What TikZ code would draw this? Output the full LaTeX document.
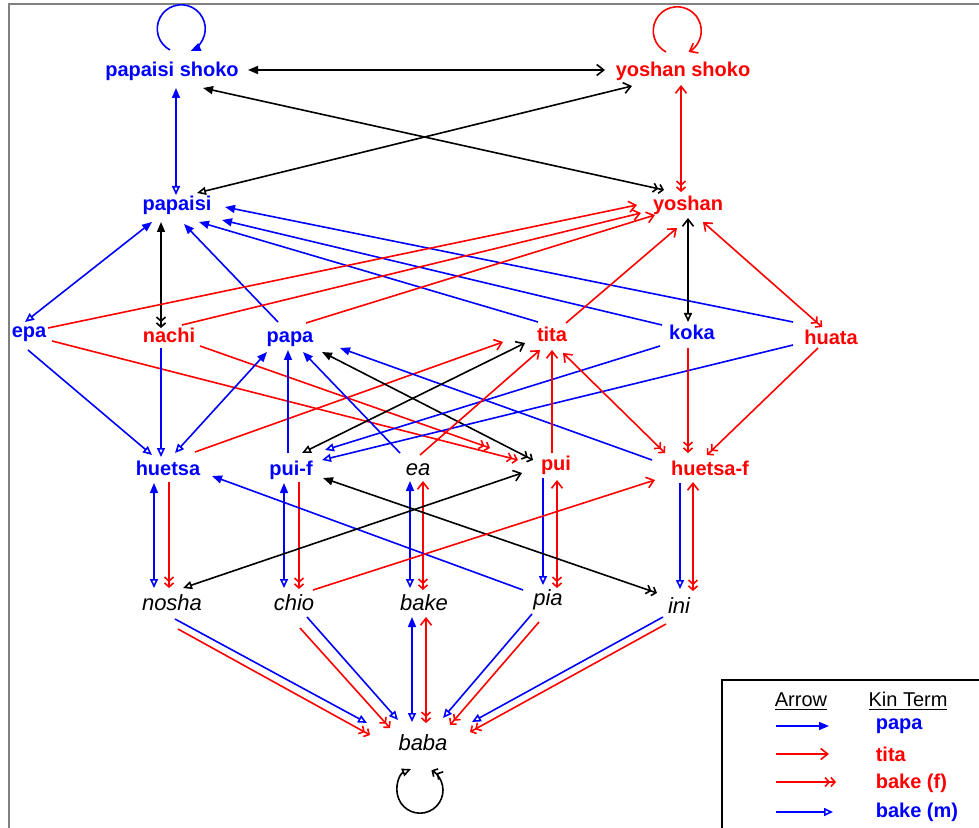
\documentclass[tikz,border=0pt]{standalone}
\usepackage{fontspec}
\setmainfont{Liberation Sans}
\usetikzlibrary{arrows.meta}

\begin{document}
\begin{tikzpicture}[
    x=0.5pt, y=-0.5pt, line width=0.8pt,
    term/.style={anchor=base, inner sep=0pt, font=\fontsize{10}{12}\selectfont\bfseries},
    pterm/.style={term, text=blue},
    tterm/.style={term, text=red},
    xterm/.style={anchor=base, inner sep=0pt, font=\fontsize{11}{13}\selectfont\itshape},
    hd/.style={anchor=base, inner sep=0pt, font=\fontsize{10}{12}\selectfont},
    pap/.tip={Triangle[length=5pt,width=4pt]},
    tit/.tip={Straight Barb[length=3.5pt,width=5.5pt]},
    bkf/.tip={Straight Barb[length=2pt,width=4.5pt] Straight Barb[length=2pt,width=4.5pt]},
    bkm/.tip={Triangle[open,length=4.5pt,width=4pt]},
]
    \useasboundingbox (0,0) rectangle (979,828);
    \draw[gray] (9,828) -- (9,4) -- (979,4);

    %% kin terms
    \node[pterm] (pshoko) at (172,77) {papaisi shoko};
    \node[tterm] (yshoko) at (683,77) {yoshan shoko};
    \node[pterm] (papaisi) at (177,211) {papaisi};
    \node[tterm] (yoshan) at (688,211) {yoshan};
    \node[pterm] (epa) at (29,338) {epa};
    \node[tterm] (nachi) at (169,343) {nachi};
    \node[pterm] (papa) at (290,343) {papa};
    \node[tterm] (tita) at (552,342) {tita};
    \node[pterm] (koka) at (692,340) {koka};
    \node[tterm] (huata) at (831,345) {huata};
    \node[pterm] (huetsa) at (168,475) {huetsa};
    \node[pterm] (puif) at (291,475) {pui-f};
    \node[xterm] (ea) at (418,475) {ea};
    \node[tterm] (pui) at (556,470) {pui};
    \node[tterm] (huetsaf) at (710,475) {huetsa-f};
    \node[xterm] (nosha) at (172,610) {nosha};
    \node[xterm] (chio) at (294,610) {chio};
    \node[xterm] (bake) at (424,610) {bake};
    \node[xterm] (pia) at (548,605) {pia};
    \node[xterm] (ini) at (679,613) {ini};
    \node[xterm] (baba) at (423,750) {baba};

    %% top: the two shoko terms
    \draw[blue, -pap] ([shift={(-2,-27)}]pshoko.base) arc[start angle=242, end angle=-67, radius=12pt];
    \draw[red, -tit] ([shift={(-17,-25)}]yshoko.base) arc[start angle=242, end angle=-62, radius=12pt];
    \draw[pap-tit] ([shift={(76,-7)}]pshoko.base) -- ([shift={(-78,-7)}]yshoko.base);
    \draw[blue, pap-bkm] ([shift={(4,11)}]pshoko.base) -- ([shift={(-1,-16)}]papaisi.base);
    \draw[red, tit-bkf] ([shift={(-2,8)}]yshoko.base) -- ([shift={(-7,-19)}]yoshan.base);
    \draw[tit-bkm] ([shift={(-51,9)}]yshoko.base) -- ([shift={(20,-18)}]papaisi.base);
    \draw[pap-bkf] ([shift={(31,11)}]pshoko.base) -- ([shift={(-24,-21)}]yoshan.base);

    %% into papaisi and yoshan
    \draw[pap-bkf] ([shift={(-16,11)}]papaisi.base) -- ([shift={(-8,-15)}]nachi.base);
    \draw[blue, bkm-pap] ([shift={(-4,-16)}]epa.base) -- ([shift={(-25,11)}]papaisi.base);
    \draw[blue, -pap] ([shift={(-12,-21)}]papa.base) -- ([shift={(7,13)}]papaisi.base);
    \draw[blue, -pap] ([shift={(-14,-20)}]tita.base) -- ([shift={(22,11)}]papaisi.base);
    \draw[blue, -pap] ([shift={(-30,-15)}]koka.base) -- ([shift={(45,9)}]papaisi.base);
    \draw[blue, -pap] ([shift={(-38,-23)}]huata.base) -- ([shift={(48,-4)}]papaisi.base);
    \draw[red, -tit] ([shift={(19,-10)}]epa.base) -- ([shift={(-51,-6)}]yoshan.base);
    \draw[red, -tit] ([shift={(13,-18)}]nachi.base) -- ([shift={(-47,2)}]yoshan.base);
    \draw[red, -tit] ([shift={(16,-20)}]papa.base) -- ([shift={(-33,4)}]yoshan.base);
    \draw[red, -tit] ([shift={(14,-19)}]tita.base) -- ([shift={(-11,17)}]yoshan.base);
    \draw[tit-bkm] ([shift={(0,7)}]yoshan.base) -- ([shift={(-4,-18)}]koka.base);
    \draw[red, tit-bkf] ([shift={(15,11)}]yoshan.base) -- ([shift={(-9,-18)}]huata.base);

    %% middle band
    \draw[blue, -bkm] ([shift={(-1,12)}]epa.base) -- ([shift={(-16,-20)}]huetsa.base);
    \draw[red, -bkf] ([shift={(23,3)}]epa.base) -- ([shift={(-38,-10)}]pui.base);
    \draw[red, -bkf] ([shift={(31,3)}]nachi.base) -- ([shift={(-66,-22)}]pui.base);
    \draw[blue, -bkm] ([shift={(-8,5)}]nachi.base) -- ([shift={(-7,-18)}]huetsa.base);
    \draw[blue, bkm-pap] ([shift={(7,-22)}]huetsa.base) -- ([shift={(-23,9)}]papa.base);
    \draw[red, -tit] ([shift={(27,-23)}]huetsa.base) -- ([shift={(-49,0)}]tita.base);
    \draw[blue, -pap] ([shift={(-3,-22)}]puif.base) -- ([shift={(-2,7)}]papa.base);
    \draw[blue, -pap] ([shift={(-18,-22)}]ea.base) -- ([shift={(13,9)}]papa.base);
    \draw[pap-bkf] ([shift={(32,9)}]papa.base) -- ([shift={(-23,-10)}]pui.base);
    \draw[blue, -pap] ([shift={(-58,-15)}]huetsaf.base) -- ([shift={(50,5)}]papa.base);
    \draw[bkm-tit] ([shift={(11,-22)}]puif.base) -- ([shift={(-27,1)}]tita.base);
    \draw[blue, -bkm] ([shift={(-32,6)}]koka.base) -- ([shift={(34,-25)}]puif.base);
    \draw[blue, -bkm] ([shift={(-38,0)}]huata.base) -- ([shift={(31,-15)}]puif.base);
    \draw[red, -tit] ([shift={(2,-20)}]ea.base) -- ([shift={(-12,8)}]tita.base);
    \draw[red, -tit] ([shift={(-4,-17)}]pui.base) -- ([shift={(0,8)}]tita.base);
    \draw[red, tit-bkf] ([shift={(11,11)}]tita.base) -- ([shift={(-45,-22)}]huetsaf.base);
    \draw[red, -bkf] ([shift={(-4,8)}]koka.base) -- ([shift={(-22,-22)}]huetsaf.base);
    \draw[red, -bkf] ([shift={(-13,3)}]huata.base) -- ([shift={(-3,-20)}]huetsaf.base);

    %% down to the italic row
    \draw[blue, pap-bkm] ([shift={(-14,8)}]huetsa.base) -- ([shift={(-18,-22)}]nosha.base);
    \draw[red, -bkf] ([shift={(1,7)}]huetsa.base) -- ([shift={(-3,-22)}]nosha.base);
    \draw[blue, pap-bkm] ([shift={(-7,8)}]puif.base) -- ([shift={(-10,-22)}]chio.base);
    \draw[red, -bkf] ([shift={(8,7)}]puif.base) -- ([shift={(5,-21)}]chio.base);
    \draw[blue, pap-bkm] ([shift={(-8,6)}]ea.base) -- ([shift={(-14,-22)}]bake.base);
    \draw[red, tit-bkf] ([shift={(5,6)}]ea.base) -- ([shift={(-1,-20)}]bake.base);
    \draw[blue, -bkm] ([shift={(-13,8)}]pui.base) -- ([shift={(-5,-20)}]pia.base);
    \draw[red, tit-bkf] ([shift={(1,10)}]pui.base) -- ([shift={(9,-17)}]pia.base);
    \draw[blue, -bkm] ([shift={(-30,8)}]huetsaf.base) -- ([shift={(1,-24)}]ini.base);
    \draw[red, tit-bkf] ([shift={(-17,7)}]huetsaf.base) -- ([shift={(14,-22)}]ini.base);
    \draw[blue, -pap] ([shift={(-25,-15)}]pia.base) -- ([shift={(44,1)}]huetsa.base);
    \draw[pap-bkf] ([shift={(32,3)}]puif.base) -- ([shift={(-22,-20)}]ini.base);
    \draw[bkm-tit] ([shift={(11,-22)}]nosha.base) -- ([shift={(-34,3)}]pui.base);
    \draw[red, -tit] ([shift={(19,-20)}]chio.base) -- ([shift={(-55,5)}]huetsaf.base);

    %% into baba
    \draw[blue, -bkm] ([shift={(3,9)}]nosha.base) -- ([shift={(-56,-27)}]baba.base);
    \draw[red, -bkf] ([shift={(6,19)}]nosha.base) -- ([shift={(-53,-15)}]baba.base);
    \draw[blue, -bkm] ([shift={(13,7)}]chio.base) -- ([shift={(-25,-30)}]baba.base);
    \draw[red, -bkf] ([shift={(6,18)}]chio.base) -- ([shift={(-33,-22)}]baba.base);
    \draw[blue, pap-bkm] ([shift={(-12,7)}]bake.base) -- ([shift={(-11,-28)}]baba.base);
    \draw[red, tit-bkf] ([shift={(2,7)}]bake.base) -- ([shift={(3,-27)}]baba.base);
    \draw[blue, -bkm] ([shift={(-16,9)}]pia.base) -- ([shift={(20,-32)}]baba.base);
    \draw[red, -bkf] ([shift={(-9,17)}]pia.base) -- ([shift={(27,-25)}]baba.base);
    \draw[blue, -bkm] ([shift={(-16,4)}]ini.base) -- ([shift={(49,-28)}]baba.base);
    \draw[red, -bkf] ([shift={(-13,11)}]ini.base) -- ([shift={(47,-18)}]baba.base);
    \draw[bkm-bkf] ([shift={(-12,19)}]baba.base) arc[start angle=113, end angle=420, radius=11.5pt];

    %% legend
    \draw[line width=0.6pt] (722,828) -- (722,680) -- (979,680);
    \node[hd] (arrowhd) at (801,706) {\underline{Arrow}};
    \node[hd] (kinhd) at (908,706) {\underline{Kin Term}};
    \coordinate (lgpa) at (776,726);
    \coordinate (lgpb) at (829,726);
    \coordinate (lgta) at (776,754);
    \coordinate (lgtb) at (829,754);
    \coordinate (lgfa) at (776,782);
    \coordinate (lgfb) at (836,782);
    \coordinate (lgma) at (776,812);
    \coordinate (lgmb) at (833,812);
    \draw[blue, -pap] (lgpa) -- (lgpb);
    \draw[red, -tit] (lgta) -- (lgtb);
    \draw[red, -bkf] (lgfa) -- (lgfb);
    \draw[blue, -bkm] (lgma) -- (lgmb);
    \node[pterm, anchor=base west] (lgpapa) at (875,729) {papa};
    \node[tterm, anchor=base west] (lgtita) at (875,761) {tita};
    \node[tterm, anchor=base west] (lgbakef) at (875,788) {bake (f)};
    \node[pterm, anchor=base west] (lgbakem) at (875,817) {bake (m)};
\end{tikzpicture}
\end{document}
